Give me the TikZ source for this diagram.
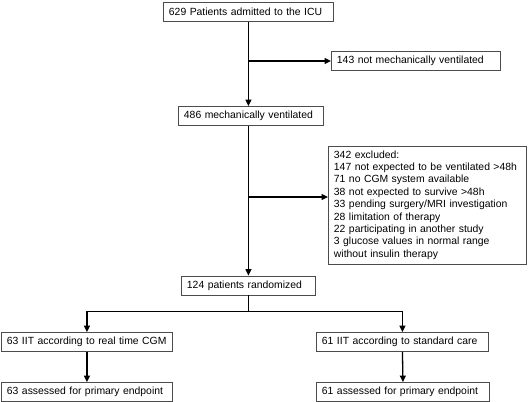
\documentclass[tikz,border=0pt]{standalone}
\usepackage{fontspec}
\setmainfont{Liberation Sans}
\usepackage{tikz}
\usetikzlibrary{calc,arrows.meta}

\begin{document}
\begin{tikzpicture}[x=1pt,y=-1pt, line width=1.3pt, >={Triangle[length=6.5pt,width=6pt]},
    every node/.style={font=\fontsize{10.4}{12.4}\selectfont},
    box/.style={draw=black!70, line width=0.9pt, rectangle, inner xsep=5.5pt, inner ysep=0pt,
        minimum height=19pt, align=left, anchor=west}]

    \useasboundingbox (0,0) rectangle (528,402);

    \node[box, text width=159pt] (icu) at (163,12) {629 Patients admitted to the ICU};
    \node[box, text width=158pt] (novent) at (331,61) {143 not mechanically ventilated};
    \node[box, text width=134pt] (vent) at (178,116) {486 mechanically ventilated};
    \node[box, text width=187pt, minimum height=118pt] (excl) at (328,205) {342 excluded:\\
        147 not expected to be ventilated >48h\\
        71 no CGM system available\\
        38 not expected to survive >48h\\
        33 pending surgery/MRI investigation\\
        28 limitation of therapy\\
        22 participating in another study\\
        3 glucose values in normal range\\
        without insulin therapy};
    \node[box, text width=123pt] (rand) at (181,285.5) {124 patients randomized};
    \node[box, text width=160pt] (cgm) at (1,342) {63 IIT according to real time CGM};
    \node[box, text width=161pt] (std) at (316,342) {61 IIT according to standard care};
    \node[box, text width=160pt] (cgmend) at (1,392) {63 assessed for primary endpoint};
    \node[box, text width=162pt] (stdend) at (316,392) {61 assessed for primary endpoint};

    % main line
    \draw[->] (icu.south) -- (icu.south |- vent.north);
    \coordinate (b1) at (icu.south |- novent.west);
    \draw[->] (b1) -- (novent.west);
    \draw[->] (icu.south |- vent.south) -- (icu.south |- rand.north);
    \coordinate (b2) at (248,197);
    \draw[->] (b2) -- (b2 -| excl.west);

    % split
    \coordinate (split) at ($(rand.south)+(0,16)$);
    \draw (rand.south) -- (split);
    \draw[->] (split) -| (cgm.north);
    \draw[->] (split) -| (std.north);
    \draw[->] (cgm.south) -- (cgmend.north);
    \draw[->] (std.south) -- (stdend.north);

\end{tikzpicture}
\end{document}
